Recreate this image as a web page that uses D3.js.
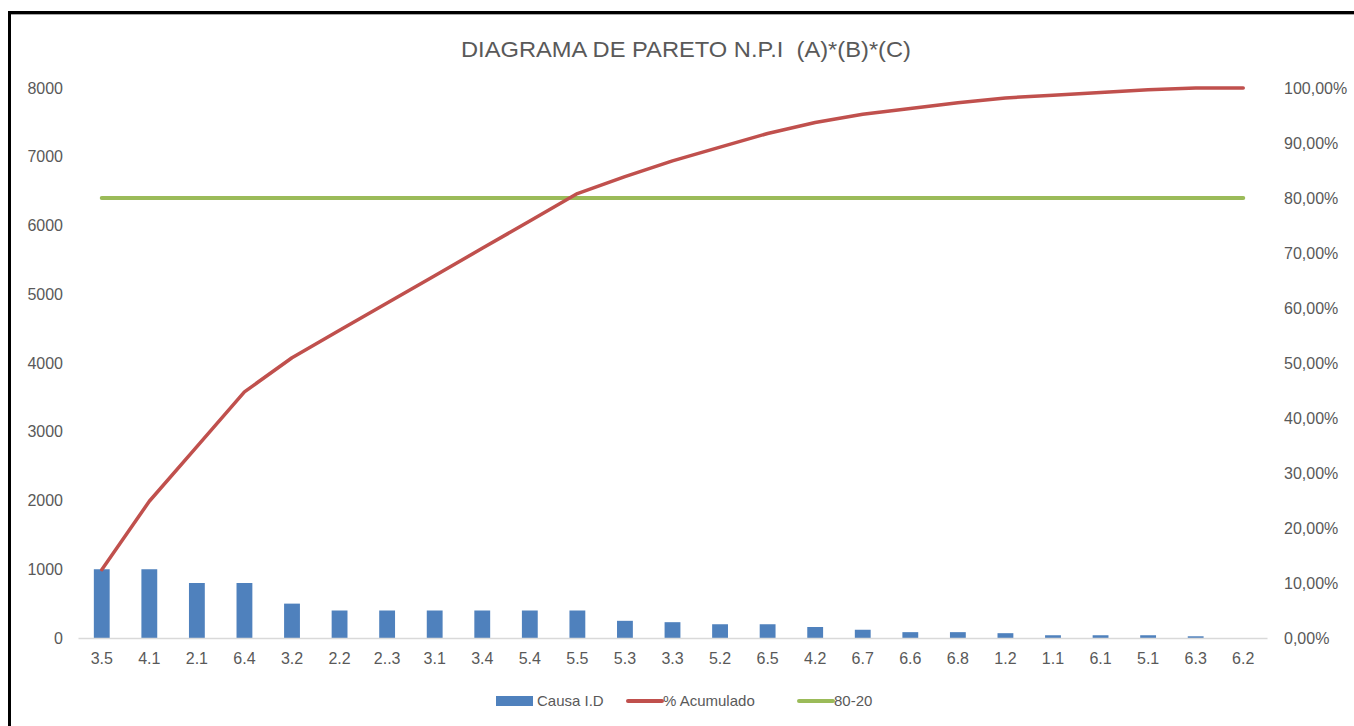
<!DOCTYPE html>
<html>
<head>
<meta charset="utf-8">
<script src="https://cdn.jsdelivr.net/npm/d3@7/dist/d3.min.js"></script>
<style>
  html, body { margin: 0; padding: 0; background: #ffffff; }
  svg { display: block; }
  text { font-family: "Liberation Sans", Arial, sans-serif; fill: #595959; }
</style>
</head>
<body>
<svg id="chart" width="1354" height="726"></svg>
<script>
// Causes, ordered by weight
const categories = ["3.5","4.1","2.1","6.4","3.2","2.2","2..3","3.1","3.4","5.4","5.5","5.3","3.3",
                    "5.2","6.5","4.2","6.7","6.6","6.8","1.2","1.1","6.1","5.1","6.3","6.2"];
// N.P.I per cause
const causaID = [1000,1000,800,800,500,400,400,400,400,400,400,250,230,
                 200,200,160,120,85,85,70,40,40,40,25,0];
// Cumulative share (%)
const acumulado = [12.43,24.86,34.80,44.75,50.96,55.94,60.91,65.88,70.85,75.82,80.80,83.90,86.76,
                   89.25,91.73,93.72,95.22,96.27,97.33,98.20,98.70,99.19,99.69,100.00,100.00];
// 80-20 reference
const ref8020 = categories.map(() => 80);

const leftTicks = [0,1000,2000,3000,4000,5000,6000,7000,8000];
const rightTicks = [0,10,20,30,40,50,60,70,80,90,100];

const svg = d3.select("#chart");

// outer frame
svg.append("path")
  .attr("d", "M9.5,726 L9.5,12.5 L1354,12.5")
  .attr("fill", "none").attr("stroke", "#000").attr("stroke-width", 3);
svg.append("line").attr("x1", 11).attr("x2", 1354).attr("y1", 14.5).attr("y2", 14.5)
  .attr("stroke", "#a6a6a6").attr("stroke-width", 1);

const plot = { left: 78, right: 1267, top: 88, bottom: 638 };

const x = d3.scaleBand().domain(categories).range([plot.left, plot.right]).paddingInner(0.667).paddingOuter(0.333);
const yL = d3.scaleLinear().domain([0, 8000]).range([plot.bottom, plot.top]);
const yR = d3.scaleLinear().domain([0, 100]).range([plot.bottom, plot.top]);
const cx = c => x(c) + x.bandwidth() / 2;

// title
svg.append("text")
  .attr("x", 686).attr("y", 57)
  .attr("text-anchor", "middle")
  .attr("font-size", 22)
  .attr("textLength", 450).attr("lengthAdjust", "spacingAndGlyphs")
  .style("white-space", "pre")
  .text("DIAGRAMA DE PARETO N.P.I  (A)*(B)*(C)");

// left axis
const axL = svg.append("g").attr("transform", `translate(${plot.left - 15},0)`)
  .call(d3.axisLeft(yL).tickValues(leftTicks).tickSize(0).tickPadding(0).tickFormat(d3.format("d")));
axL.select(".domain").remove();
axL.selectAll("text").attr("font-size", 16).attr("fill", "#595959").style("font-family", "Liberation Sans, Arial, sans-serif");

// right axis
const axR = svg.append("g").attr("transform", `translate(${plot.right + 17},0)`)
  .call(d3.axisRight(yR).tickValues(rightTicks).tickSize(0).tickPadding(0)
    .tickFormat(d => d3.format(".2f")(d).replace(".", ",") + "%"));
axR.select(".domain").remove();
axR.selectAll("text").attr("font-size", 16).attr("fill", "#595959").style("font-family", "Liberation Sans, Arial, sans-serif");

// bars
svg.append("g").selectAll("rect").data(categories).join("rect")
  .attr("x", c => x(c))
  .attr("width", x.bandwidth())
  .attr("y", (c, i) => yL(causaID[i]))
  .attr("height", (c, i) => plot.bottom - yL(causaID[i]))
  .attr("fill", "#4f81bd");

// category axis
const axX = svg.append("g").attr("transform", `translate(0,${plot.bottom})`)
  .call(d3.axisBottom(x).tickSize(0).tickPadding(15));
axX.select(".domain").attr("stroke", "#d9d9d9").attr("stroke-width", 1.5);
axX.selectAll("text").attr("font-size", 16).attr("fill", "#595959").style("font-family", "Liberation Sans, Arial, sans-serif");

// 80-20 line
svg.append("path")
  .datum(ref8020)
  .attr("fill", "none").attr("stroke", "#9bbb59").attr("stroke-width", 4).attr("stroke-linecap", "round")
  .attr("d", d3.line().x((d, i) => cx(categories[i])).y(d => yR(d)));

// cumulative line
svg.append("path")
  .datum(acumulado)
  .attr("fill", "none").attr("stroke", "#c0504d").attr("stroke-width", 3.5)
  .attr("stroke-linejoin", "round").attr("stroke-linecap", "round")
  .attr("d", d3.line().x((d, i) => cx(categories[i])).y(d => yR(d)));

// legend
const lg = svg.append("g").attr("font-size", 15);
lg.append("rect").attr("x", 496).attr("y", 696).attr("width", 37).attr("height", 10).attr("fill", "#4f81bd");
lg.append("text").attr("x", 537).attr("y", 706).attr("font-size", 15).text("Causa I.D");
lg.append("line").attr("x1", 628).attr("x2", 662).attr("y1", 701).attr("y2", 701)
  .attr("stroke", "#c0504d").attr("stroke-width", 4).attr("stroke-linecap", "round");
lg.append("text").attr("x", 663).attr("y", 706).attr("font-size", 15).text("% Acumulado");
lg.append("line").attr("x1", 799).attr("x2", 833).attr("y1", 701).attr("y2", 701)
  .attr("stroke", "#9bbb59").attr("stroke-width", 4).attr("stroke-linecap", "round");
lg.append("text").attr("x", 834).attr("y", 706).attr("font-size", 15).text("80-20");
</script>
</body>
</html>
